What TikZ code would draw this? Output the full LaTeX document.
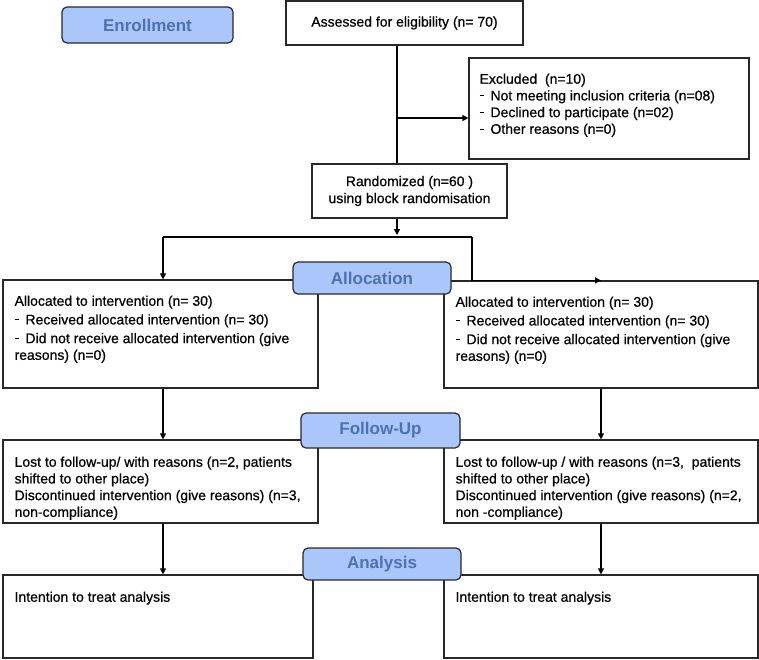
\documentclass[tikz,border=0pt]{standalone}
\usepackage{fontspec}
\setmainfont{Liberation Sans}[BoldFont=Liberation Sans, BoldFeatures={FakeBold=0.6}]
\newfontfamily\phasefont{Liberation Sans}
\usetikzlibrary{arrows.meta}
\definecolor{phasefill}{RGB}{170,198,250}
\definecolor{phasetext}{RGB}{79,113,178}
\definecolor{boxline}{RGB}{40,40,40}
\newcommand{\itemdash}{\raisebox{0.6ex}{\rule{4pt}{0.7pt}}\hspace{3pt}}

\begin{document}
\begin{tikzpicture}[x=1pt, y=-1pt,
  box/.style={draw=boxline, line width=1.2pt, fill=white, inner sep=0pt, font=\fontsize{14}{17}\selectfont\bfseries},
  phase/.style={draw=boxline, line width=1.2pt, fill=phasefill, rounded corners=5pt, inner sep=0pt,
    font=\phasefont\fontsize{17}{19}\selectfont\bfseries, text=phasetext},
  txt/.style={inner sep=0pt, anchor=north west, align=left, font=\fontsize{14}{16.7}\selectfont\bfseries},
  flow/.style={line width=1.2pt, -{Triangle[length=6pt,width=6pt]}},
  link/.style={line width=1.2pt}]
  \useasboundingbox (0,0) rectangle (759,659);

  \node[phase, minimum width=171pt, minimum height=36pt] (enroll) at (147.5,25) {Enrollment};
  \node[box, minimum width=237pt, minimum height=44pt] (assess) at (404.5,23) {Assessed for eligibility (n= 70)};
  \node[box, minimum width=280pt, minimum height=101pt] (excl) at (609,108.5) {};
  \node[txt] (excltxt) at ([xshift=11pt, yshift=-16pt]excl.north west)
    {Excluded~ (n=10)\\ \itemdash{} Not meeting inclusion criteria (n=08)\\ \itemdash{} Declined to participate (n=02)\\ \itemdash{} Other reasons (n=0)};
  \node[box, minimum width=195pt, minimum height=54pt, align=center] (rand) at (409.5,191)
    {Randomized (n=60 )\\ using block randomisation};

  \coordinate (trunk) at (397,118);
  \coordinate (split) at (397,237);
  \coordinate (lbr) at (163,237);
  \coordinate (rbr) at (472,237);

  \draw[link] (assess.south -| trunk) -- (rand.north -| trunk);
  \draw[flow] (trunk) -- (trunk -| excl.west);
  \draw[flow] (rand.south -| split) -- ([yshift=2pt]split);
  \draw[link] (lbr) -- (rbr);

  \node[box, minimum width=315pt, minimum height=108pt] (alloc1) at (160.5,334) {};
  \node[txt] (alloc1txt) at ([xshift=12pt, yshift=-16pt]alloc1.north west)
    {Allocated to intervention (n= 30)\\[2pt] \itemdash{} Received allocated intervention (n= 30)\\[2pt]
     \itemdash{} Did not receive allocated intervention (give\\ reasons) (n=0)};
  \node[box, minimum width=314pt, minimum height=107pt] (alloc2) at (601,334.5) {};
  \node[txt] (alloc2txt) at ([xshift=12pt, yshift=-16pt]alloc2.north west)
    {Allocated to intervention (n= 30)\\[2pt] \itemdash{} Received allocated intervention (n= 30)\\[2pt]
     \itemdash{} Did not receive allocated intervention (give\\ reasons) (n=0)};

  \draw[flow] (lbr) -- (alloc1.north -| lbr);
  \draw[flow] (rbr) -- (alloc2.north -| rbr) -- (alloc2.north);

  \node[box, minimum width=315pt, minimum height=83pt] (fup1) at (160.5,481.5) {};
  \node[txt] (fup1txt) at ([xshift=12pt, yshift=-17pt]fup1.north west)
    {Lost to follow-up/ with reasons (n=2, patients\\ shifted to other place)\\
     Discontinued intervention (give reasons) (n=3,\\ non-compliance)};
  \node[box, minimum width=314pt, minimum height=83pt] (fup2) at (601,481.5) {};
  \node[txt] (fup2txt) at ([xshift=12pt, yshift=-17pt]fup2.north west)
    {Lost to follow-up / with reasons (n=3,~ patients\\ shifted to other place)\\
     Discontinued intervention (give reasons) (n=2,\\ non -compliance)};

  \node[box, minimum width=310pt, minimum height=83pt] (ana1) at (158,616.5) {};
  \node[txt] (ana1txt) at ([xshift=12pt, yshift=-17pt]ana1.north west) {Intention to treat analysis};
  \node[box, minimum width=314pt, minimum height=83pt] (ana2) at (601,616.5) {};
  \node[txt] (ana2txt) at ([xshift=12pt, yshift=-17pt]ana2.north west) {Intention to treat analysis};

  \draw[flow] (alloc1.south -| lbr) -- (fup1.north -| lbr);
  \draw[flow] (alloc2.south) -- (fup2.north);
  \draw[flow] (fup1.south -| lbr) -- (ana1.north -| lbr);
  \draw[flow] (fup2.south) -- (ana2.north);

  \node[phase, minimum width=158pt, minimum height=32pt] (allocph) at (372,278) {Allocation};
  \node[phase, minimum width=159pt, minimum height=35pt] (fupph) at (380.5,430.5) {Follow-Up};
  \node[phase, minimum width=158pt, minimum height=32pt] (anaph) at (382,564) {Analysis};
\end{tikzpicture}
\end{document}
